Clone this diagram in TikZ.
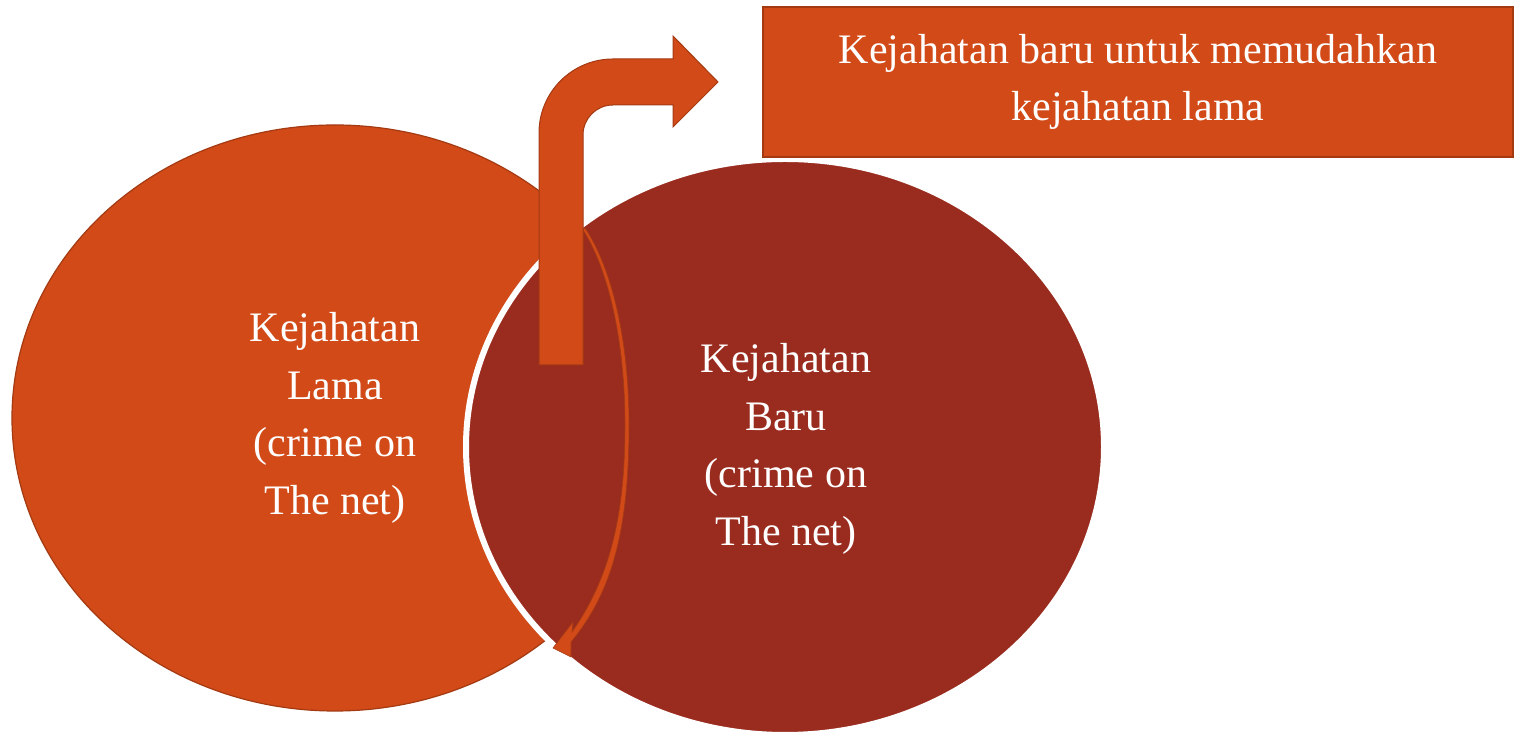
\documentclass[tikz,border=0pt]{standalone}
\usepackage{fontspec}
\setmainfont{Liberation Serif}
\usetikzlibrary{shapes.geometric}
\definecolor{rust}{HTML}{D14A18}
\definecolor{wine}{HTML}{9A2C1F}
\definecolor{rim}{HTML}{A33A12}
\tikzset{
  label text/.style={text=white, align=center, font=\fontsize{42}{57.5}\selectfont},
  oldcrime/.style={ellipse, inner sep=0pt, fill=rust, draw=rim, line width=1.2pt, label text},
  newcrime/.style={ellipse, inner sep=0pt, fill=wine, draw=white, line width=6pt},
  notebox/.style={rectangle, inner sep=0pt, fill=rust, draw=rim, line width=1.2pt, label text},
  arrowshape/.style={fill=rust, draw=rim, line width=1pt, line join=miter}
}
\begin{document}
\begin{tikzpicture}[x=1pt, y=1pt]
\useasboundingbox (0,0) rectangle (1519,735);

% the two overlapping ellipses
\node[oldcrime, minimum width=646pt, minimum height=586pt] (lama) at (335,317)
  {Kejahatan\\Lama\\(crime on\\The net)};
\node[newcrime, minimum width=638pt, minimum height=576pt] (baru) at (785,288) {};
\node[label text] (barutext) at (786,286) {Kejahatan\\Baru\\(crime on\\The net)};

% thin curved arrow running down inside the overlap
\fill[fill=rust, draw=rim, line width=0.6pt]
  (553,87) -- (571,78) -- (571,93)
  .. controls (610,140) and (629,200) .. (629,310)
  .. controls (629,400) and (610,470) .. (585,507)
  -- (583,505)
  .. controls (606,470) and (625,400) .. (625,310)
  .. controls (625,225) and (612,160) .. (572,103)
  -- (573,113) -- cycle;

% bent arrow rising out of the overlap
\draw[arrowshape]
  (539,370) -- (539,602) arc[start angle=180, end angle=90, radius=74]
  -- (673,676) -- (673,699) -- (718,653) -- (673,608) -- (673,630)
  -- (613,630) arc[start angle=90, end angle=180, radius=30]
  -- (583,370) -- cycle;

% caption box
\node[notebox, minimum width=750pt, minimum height=150pt] (note) at (1138,653)
  {Kejahatan baru untuk memudahkan\\kejahatan lama};
\end{tikzpicture}
\end{document}
